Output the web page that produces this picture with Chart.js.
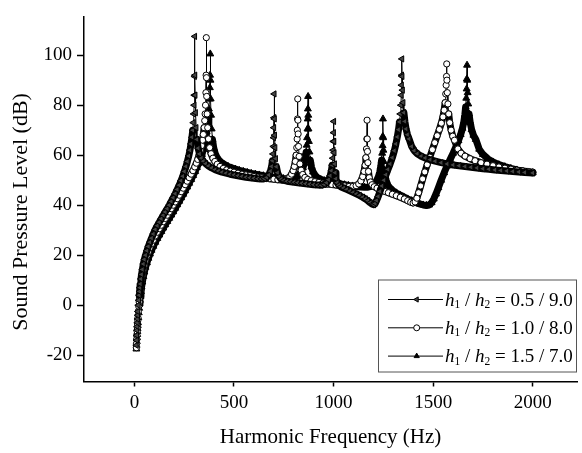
<!DOCTYPE html>
<html>
<head>
<meta charset="utf-8">
<title>Sound pressure level vs harmonic frequency</title>
<script src="https://cdn.jsdelivr.net/npm/chart.js@4/dist/chart.umd.min.js"></script>
<style>
  html, body { margin: 0; padding: 0; background: #fff; }
  #wrap { width: 582px; height: 453px; }
</style>
</head>
<body>
<div id="wrap"><canvas id="splChart"></canvas></div>
<script>
const serif = "'Liberation Serif', 'Times New Roman', serif";

// [frequency (Hz), SPL (dB)] for h1/h2 = 0.5/9.0
const ratio05Points = [
  [10,-16],[11,-14],[12,-12],[13,-10],[14,-8.5],[15,-7],[16,-5.5],[17,-4],[18,-2.5],[20,0],
  [22,2],[24,4],[26,5.5],[28,7],[30,8.5],[33,10.5],[36,12.3],[40,14.3],[45,16.5],[50,18.3],
  [56,20],[63,21.8],[70,23.5],[78,25.2],[86,26.8],[95,28.5],[105,30.3],[115,31.8],[125,33.2],[135,34.6],
  [145,36],[155,37.3],[165,38.6],[175,40],[185,41.5],[195,43],[205,44.6],[215,46.3],[225,48],[234,49.8],
  [243,51.6],[251,53.5],[259,55.5],[266,57.5],[273,59.7],[279,62],[284,64.5],[289,67.2],[293,70],[296,73],
  [298,76.5],[300,80],[301,84],[302,91.5],[303,107.5],[304,92],[305,84],[307,77],[310,71],[314,66.3],
  [320,62.8],[327,60.5],[336,58.8],[346,57.6],[358,56.6],[372,55.7],[388,54.9],[405,54.2],[422,53.7],[440,53.2],
  [460,52.8],[480,52.4],[500,52.1],[520,51.8],[540,51.5],[560,51.2],[580,51],[600,50.8],[620,50.6],[638,50.5],
  [653,50.6],[665,51.1],[675,52.1],[683,53.6],[689,55.5],[693,57.8],[696,60.5],[698,63.5],[699,67],[700,71],
  [701,75],[702,84.5],[703,74.5],[704,68],[706,63],[709,58.6],[713,55.4],[719,53],[727,51.4],[737,50.4],
  [750,49.9],[766,49.6],[784,49.4],[802,49.2],[820,49],[840,48.8],[860,48.6],[880,48.4],[900,48.2],[920,48.1],
  [938,48],[953,48.3],[965,49],[975,50.2],[983,51.8],[989,53.8],[993,56],[996,58.8],[998,62],[999,65.5],
  [1000,69],[1001,73.5],[1002,65.5],[1003,61],[1005,56.5],[1008,53],[1012,50.6],[1018,49],[1026,48],[1036,47.4],
  [1050,46.9],[1066,46.3],[1082,45.7],[1098,45.1],[1114,44.5],[1130,43.9],[1146,43.2],[1160,42.5],[1172,41.8],[1184,41],
  [1194,40.4],[1202,40.2],[1209,40.7],[1216,41.9],[1224,43.5],[1233,45.5],[1243,47.7],[1253,50],[1263,52.2],[1273,54.3],
  [1284,56.5],[1295,59],[1305,61.8],[1313,64.5],[1320,67.3],[1326,70.2],[1331,73.3],[1335,76.5],[1338,80],[1340,84],
  [1341,88],[1342,92],[1343,98.5],[1344,91.5],[1346,86],[1349,81],[1353,77],[1358,73.5],[1364,70.5],[1371,68.2],
  [1379,66.5],[1392,63.5],[1405,61.8],[1420,60.6],[1440,59.6],[1460,58.9],[1485,58.2],[1510,57.6],[1540,57],[1570,56.5],
  [1600,56.1],[1630,55.8],[1660,55.5],[1690,55.2],[1720,54.9],[1750,54.6],[1780,54.4],[1810,54.1],[1840,53.9],[1870,53.7],
  [1900,53.5],[1930,53.3],[1960,53.1],[2000,52.9]
];

// [frequency (Hz), SPL (dB)] for h1/h2 = 1.0/8.0
const ratio10Points = [
  [10,-17],[11,-15.3],[12,-13.5],[13,-12],[14,-10.5],[15,-9],[16,-7.5],[17,-6.2],[18,-5],[20,-2.5],
  [22,-0.5],[24,1.3],[26,3],[28,4.6],[30,6],[33,8],[36,9.8],[40,12],[45,14.2],[50,16],
  [56,17.8],[63,19.6],[70,21.3],[78,23],[86,24.5],[95,26],[105,27.7],[115,29.2],[125,30.6],[135,32],
  [145,33.4],[155,34.7],[165,36],[175,37.3],[185,38.6],[195,40],[205,41.3],[215,42.6],[225,44],[235,45.4],
  [245,46.8],[255,48.2],[265,49.6],[275,51],[285,52.4],[294,53.8],[303,55.3],[311,56.8],[318,58.3],[325,60],
  [331,61.8],[337,63.8],[342,66],[346,68.3],[350,71],[353,73.8],[355,76.5],[357,80],[359,85],[360,92],
  [361,107],[362,91],[363,83.5],[365,76.5],[368,71],[372,66.5],[378,63],[385,60.6],[394,58.8],[404,57.5],
  [416,56.4],[430,55.5],[446,54.7],[463,54.1],[481,53.6],[500,53.2],[520,52.8],[540,52.4],[560,52.1],[580,51.8],
  [600,51.5],[620,51.2],[640,51],[660,50.8],[680,50.6],[700,50.4],[720,50.2],[740,50.1],[756,50.2],[769,50.6],
  [780,51.3],[789,52.4],[797,53.8],[803,55.5],[808,57.5],[812,60],[815,63],[817,66.5],[818,70],[819,74.5],
  [820,82.5],[821,74],[822,68.5],[824,63.5],[827,59.5],[831,56.5],[837,54],[845,52.3],[856,51.1],[870,50.3],
  [887,49.8],[906,49.4],[926,49.1],[947,48.8],[968,48.5],[990,48.3],[1012,48.1],[1034,47.9],[1056,47.7],[1078,47.5],
  [1097,47.5],[1113,47.8],[1126,48.5],[1137,49.7],[1146,51.4],[1153,53.5],[1158,56],[1162,59],[1165,62.5],[1167,66.5],
  [1168,74],[1169,66.5],[1170,61.5],[1172,57],[1175,53.5],[1179,51],[1185,49.3],[1193,48.2],[1204,47.4],[1218,46.8],
  [1235,46.2],[1255,45.6],[1275,45],[1295,44.4],[1315,43.8],[1335,43.2],[1355,42.5],[1372,41.8],[1387,41.2],[1399,40.9],
  [1409,41.3],[1418,42.8],[1427,45],[1437,47.7],[1447,50.5],[1458,53.3],[1470,56.2],[1483,59.2],[1496,62.2],[1508,65],
  [1520,67.8],[1531,70.3],[1541,72.8],[1549,75.3],[1555,78],[1560,81],[1563,84.5],[1565,88],[1567,91.5],[1568,96.5],
  [1569,90],[1571,85],[1574,80.5],[1578,76.5],[1583,73],[1590,70],[1598,67.6],[1607,66],[1624,62.5],[1640,60.8],
  [1660,59.6],[1685,58.6],[1710,57.8],[1740,57],[1770,56.4],[1800,55.8],[1830,55.3],[1860,54.8],[1890,54.4],[1920,54],
  [1950,53.7],[1980,53.4],[2000,53.2]
];

// [frequency (Hz), SPL (dB)] for h1/h2 = 1.5/7.0
const ratio15Points = [
  [10,-17.5],[11,-16],[12,-14.5],[13,-13],[14,-11.7],[15,-10.5],[16,-9.3],[17,-8.1],[18,-7],[20,-5],
  [22,-3],[24,-1.2],[26,0.5],[28,2],[30,3.5],[33,5.5],[36,7.3],[40,9.3],[45,11.5],[50,13.3],
  [56,15.2],[63,17],[70,18.8],[78,20.5],[86,22],[95,23.6],[105,25.2],[115,26.7],[125,28.1],[135,29.5],
  [145,30.9],[155,32.2],[165,33.5],[175,34.8],[185,36.1],[195,37.4],[205,38.8],[215,40.2],[225,41.6],[235,43],
  [245,44.4],[255,45.8],[265,47.3],[275,48.8],[285,50.3],[295,51.9],[305,53.5],[314,55.1],[323,56.8],[331,58.5],
  [339,60.3],[346,62.3],[352,64.4],[358,66.8],[363,69.3],[367,72],[371,75],[374,78.5],[377,82.5],[379,87],
  [380,92],[381,100.5],[382,90],[383,82.5],[385,76],[388,70.5],[392,66.3],[398,63],[405,60.8],[414,59.2],
  [425,58],[438,57],[453,56.2],[470,55.5],[488,54.9],[507,54.4],[527,53.9],[547,53.5],[567,53.1],[587,52.7],
  [607,52.4],[627,52.1],[647,51.8],[667,51.5],[687,51.3],[707,51.1],[727,50.9],[747,50.7],[767,50.6],[786,50.6],
  [802,50.9],[816,51.5],[828,52.4],[838,53.6],[846,55],[853,56.8],[858,58.8],[862,61.2],[865,64],[867,67],
  [869,70.5],[870,74.5],[871,78.5],[872,83.5],[873,76],[874,70.5],[876,65.5],[879,61.3],[883,58],[889,55.3],
  [897,53.3],[907,52],[920,51],[936,50.3],[955,49.8],[975,49.4],[995,49.1],[1015,48.8],[1035,48.5],[1055,48.2],
  [1075,47.9],[1095,47.7],[1115,47.5],[1135,47.3],[1155,47.2],[1173,47.2],[1189,47.5],[1203,48.3],[1215,49.6],[1225,51.4],
  [1232,53.3],[1237,55.5],[1241,58],[1244,60.8],[1246,63.8],[1247,67.5],[1248,74.5],[1249,67],[1250,62],[1252,57.5],
  [1255,54],[1259,51.5],[1265,49.5],[1273,48],[1284,46.8],[1298,45.8],[1315,44.9],[1333,44.1],[1352,43.3],[1372,42.5],
  [1392,41.8],[1412,41.1],[1432,40.5],[1450,40.1],[1466,39.9],[1480,40.1],[1492,41],[1503,42.5],[1514,44.5],[1526,47],
  [1540,50],[1555,53],[1570,55.7],[1585,58.3],[1600,60.8],[1614,63.3],[1627,65.8],[1638,68.3],[1647,70.8],[1654,73.4],
  [1659,76.2],[1663,79.3],[1666,82.8],[1668,86.5],[1669,90.5],[1670,96],[1671,90],[1673,85],[1676,80.5],[1680,76.5],
  [1686,73],[1693,70.2],[1702,68],[1714,66.3],[1731,62.4],[1750,60.3],[1775,58.5],[1800,57.3],[1830,56.2],[1860,55.4],
  [1890,54.7],[1920,54.1],[1950,53.6],[1975,53.3],[2000,53]
];

// h1 / h2 pairs shown in the legend
const thicknessRatios = [['0.5', '9.0'], ['1.0', '8.0'], ['1.5', '7.0']];

const xTickValues = [-250, 0, 250, 500, 750, 1000, 1250, 1500, 1750, 2000];
const yTickValues = [-30, -20, -10, 0, 10, 20, 30, 40, 50, 60, 70, 80, 90, 100, 110];

const markerStyles = [
  { pointStyle: 'triangle', rotation: -90, radius: 3.6, fill: '#444' },
  { pointStyle: 'circle', rotation: 0, radius: 3.1, fill: '#fff' },
  { pointStyle: 'triangle', rotation: 0, radius: 4, fill: '#000' }
];

// near-vertical parts of the resonance peaks get a hairline, the rest a heavy stroke
function segmentWidth(ctx) {
  const dx = Math.abs(ctx.p1.x - ctx.p0.x);
  const dy = Math.abs(ctx.p1.y - ctx.p0.y);
  return dy > 10 * dx ? 1 : 7;
}

function makeDataset(label, points, style) {
  return {
    label: label,
    data: points.map(([f, db]) => ({ x: f, y: db })),
    borderColor: '#000',
    borderWidth: 7,
    borderJoinStyle: 'round',
    borderCapStyle: 'round',
    tension: 0,
    pointStyle: style.pointStyle,
    pointRotation: style.rotation,
    pointRadius: style.radius,
    pointBorderWidth: 1,
    pointBorderColor: '#000',
    pointBackgroundColor: style.fill,
    segment: { borderWidth: segmentWidth }
  };
}

function drawMarker(ctx, style, x, y, radius) {
  ctx.save();
  ctx.fillStyle = style.fill;
  ctx.strokeStyle = '#000';
  ctx.lineWidth = 1;
  Chart.helpers.drawPoint(ctx, {
    pointStyle: style.pointStyle,
    rotation: style.rotation,
    radius: radius,
    borderWidth: 1
  }, x, y);
  ctx.restore();
}

// vertical axis title and the boxed legend with italic h and subscripts
const annotations = {
  id: 'annotations',
  afterDraw(chart) {
    const { ctx, chartArea: ca } = chart;

    ctx.save();
    ctx.fillStyle = '#000';
    ctx.font = '22px ' + serif;
    ctx.textAlign = 'center';
    ctx.textBaseline = 'middle';
    ctx.translate(21, (ca.top + ca.bottom) / 2 + 13);
    ctx.rotate(-Math.PI / 2);
    ctx.fillText('Sound Pressure Level (dB)', 0, 0);
    ctx.restore();

    const boxW = 198, boxH = 92;
    const x0 = ca.right - boxW - 1;
    const y0 = ca.bottom - boxH - 10;
    ctx.save();
    ctx.strokeStyle = '#555';
    ctx.lineWidth = 1;
    ctx.strokeRect(x0 + 0.5, y0 + 0.5, boxW, boxH);

    thicknessRatios.forEach(([a, b], i) => {
      const cy = y0 + 20 + i * 28.3;
      ctx.strokeStyle = '#000';
      ctx.lineWidth = 1;
      ctx.beginPath();
      ctx.moveTo(x0 + 10, cy);
      ctx.lineTo(x0 + 65, cy);
      ctx.stroke();
      drawMarker(ctx, markerStyles[i], x0 + 38.7, cy, 3);

      const base = cy + 6;
      let x = x0 + 67;
      ctx.fillStyle = '#000';
      ctx.textAlign = 'left';
      ctx.textBaseline = 'alphabetic';
      const parts = [
        ['italic 19px ' + serif, 'h', 0],
        ['11.5px ' + serif, '1', 2.5],
        ['19px ' + serif, ' / ', 0],
        ['italic 19px ' + serif, 'h', 0],
        ['11.5px ' + serif, '2', 2.5],
        ['19px ' + serif, ' = ' + a + ' / ' + b, 0]
      ];
      parts.forEach(([font, text, shift]) => {
        ctx.font = font;
        ctx.fillText(text, x, base + shift);
        x += ctx.measureText(text).width;
      });
    });
    ctx.restore();
  }
};

new Chart(document.getElementById('splChart'), {
  type: 'line',
  data: {
    datasets: [
      makeDataset('h1 / h2 = 0.5 / 9.0', ratio05Points, markerStyles[0]),
      makeDataset('h1 / h2 = 1.0 / 8.0', ratio10Points, markerStyles[1]),
      makeDataset('h1 / h2 = 1.5 / 7.0', ratio15Points, markerStyles[2])
    ]
  },
  options: {
    responsive: true,
    maintainAspectRatio: false,
    animation: false,
    events: [],
    layout: { padding: { top: 7.3, left: 0, right: 0, bottom: 0 } },
    plugins: {
      legend: { display: false },
      tooltip: { enabled: false }
    },
    scales: {
      x: {
        type: 'linear',
        min: -253,
        max: 2222,
        afterBuildTicks: axis => { axis.ticks = xTickValues.map(v => ({ value: v })); },
        afterFit: scale => { scale.height = 71.5; },
        grid: { drawOnChartArea: false, drawTicks: true, tickLength: 5, tickWidth: 1.5, tickColor: '#000' },
        border: { display: true, color: '#000', width: 1.5 },
        ticks: {
          autoSkip: false,
          maxRotation: 0,
          padding: 5,
          color: '#000',
          font: { family: serif, size: 19 },
          callback: v => (v % 500 === 0 ? String(v) : null)
        },
        title: {
          display: true,
          text: 'Harmonic Frequency (Hz)',
          color: '#000',
          font: { family: serif, size: 21 },
          padding: { top: 0, bottom: 3 }
        }
      },
      y: {
        type: 'linear',
        min: -30.5,
        max: 115.5,
        afterBuildTicks: axis => { axis.ticks = yTickValues.map(v => ({ value: v })); },
        afterFit: scale => { scale.width = 84; },
        grid: { drawOnChartArea: false, drawTicks: true, tickLength: 7, tickWidth: 1.5, tickColor: '#000' },
        border: { display: true, color: '#000', width: 1.5 },
        ticks: {
          autoSkip: false,
          padding: 5,
          color: '#000',
          font: { family: serif, size: 19 },
          callback: v => (v % 20 === 0 ? String(v) : null)
        }
      }
    }
  },
  plugins: [annotations]
});
</script>
</body>
</html>
